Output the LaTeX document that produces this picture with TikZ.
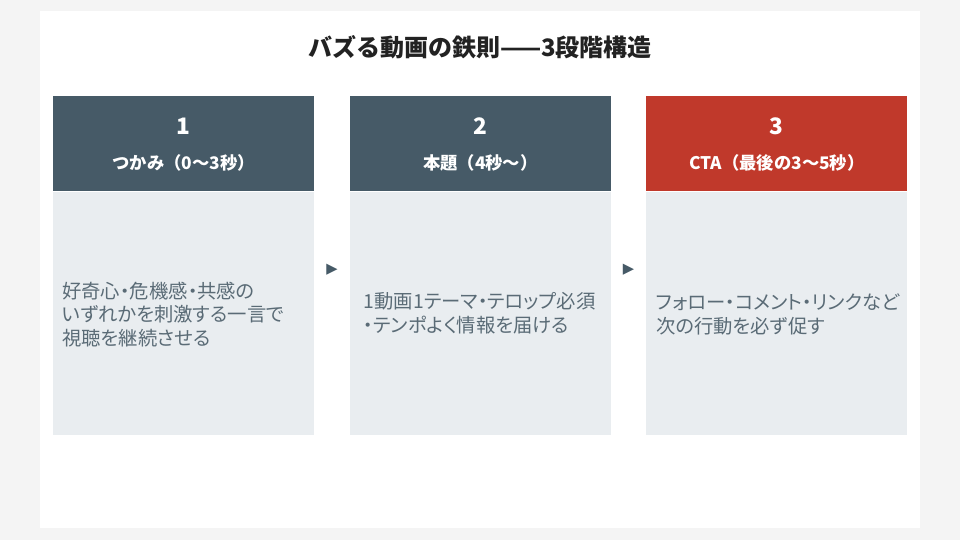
\documentclass[tikz,border=0pt]{standalone}
\usepackage{fontspec}
\setmainfont{Noto Sans CJK JP}
\newfontfamily\paltfont{Noto Sans CJK JP}[RawFeature=+palt]
\newfontfamily\symfont{DejaVu Sans}
\usetikzlibrary{positioning,calc}
\usepackage{xcolor}
\definecolor{pagegray}{HTML}{F4F4F4}
\definecolor{slate}{HTML}{465A67}
\definecolor{ctared}{HTML}{C0392B}
\definecolor{bodybg}{HTML}{E9EDF0}
\definecolor{bodytxt}{HTML}{5A6B76}
\definecolor{titletxt}{HTML}{222222}

\begin{document}
\begin{tikzpicture}[x=0.75pt,y=-0.75pt,
    node distance=26.25pt,
    head/.style={fill=slate,minimum width=195.75pt,minimum height=71.25pt,inner sep=0pt},
    ctahead/.style={head,fill=ctared},
    body/.style={fill=bodybg,minimum width=195.75pt,minimum height=182.25pt,inner sep=0pt},
    num/.style={font=\bfseries\fontsize{17}{20}\selectfont,text=white},
    lbl/.style={font=\bfseries\fontsize{13}{16}\selectfont,text=white},
    desc/.style={font=\paltfont\fontsize{14.5}{17.6}\selectfont,text=bodytxt,align=left,anchor=west,inner sep=0pt},
    tri/.style={font=\symfont\fontsize{11}{12}\selectfont,text=slate,inner sep=0pt}]
    \fill[pagegray] (0,0) rectangle (960,540);
    \fill[white] (40,11) rectangle (920,528);
    \node[font=\bfseries\fontsize{18}{22}\selectfont,text=titletxt] (title) at (480,47) {バズる動画の鉄則——3段階構造};
    \node[head,anchor=north west] (hd1) at (53,96) {};
    \node[head,right=of hd1] (hd2) {};
    \node[ctahead,right=of hd2] (hd3) {};
    \node[body,below=0pt of hd1] (bd1) {};
    \node[body,below=0pt of hd2] (bd2) {};
    \node[body,below=0pt of hd3] (bd3) {};
    \node[num] (n1) at ($(hd1.north)+(0,30)$) {1};
    \node[num] (n2) at ($(hd2.north)+(0,30)$) {2};
    \node[num] (n3) at ($(hd3.north)+(0,30)$) {3};
    \node[lbl] (l1) at ($(hd1.north)+(0,67)$) {つかみ（0〜3秒）};
    \node[lbl] (l2) at ($(hd2.north)+(0,67)$) {本題（4秒〜）};
    \node[lbl] (l3) at ($(hd3.north)+(0,67)$) {CTA（最後の3〜5秒）};
    \node[desc] (t1) at ($(bd1.west)+(9,1)$) {好奇心・危機感・共感の\\いずれかを刺激する一言で\\視聴を継続させる};
    \node[desc] (t2) at ($(bd2.west)+(14,0)$) {1動画1テーマ・テロップ必須\\・テンポよく情報を届ける};
    \node[desc] (t3) at ($(bd3.west)+(10,1)$) {フォロー・コメント・リンクなど\\次の行動を必ず促す};
    \node[tri] (ar1) at ($(bd1.north east)!0.5!(bd2.north west)+(0,78)$) {▶};
    \node[tri] (ar2) at ($(bd2.north east)!0.5!(bd3.north west)+(0,78)$) {▶};
  \end{tikzpicture}
\end{document}
